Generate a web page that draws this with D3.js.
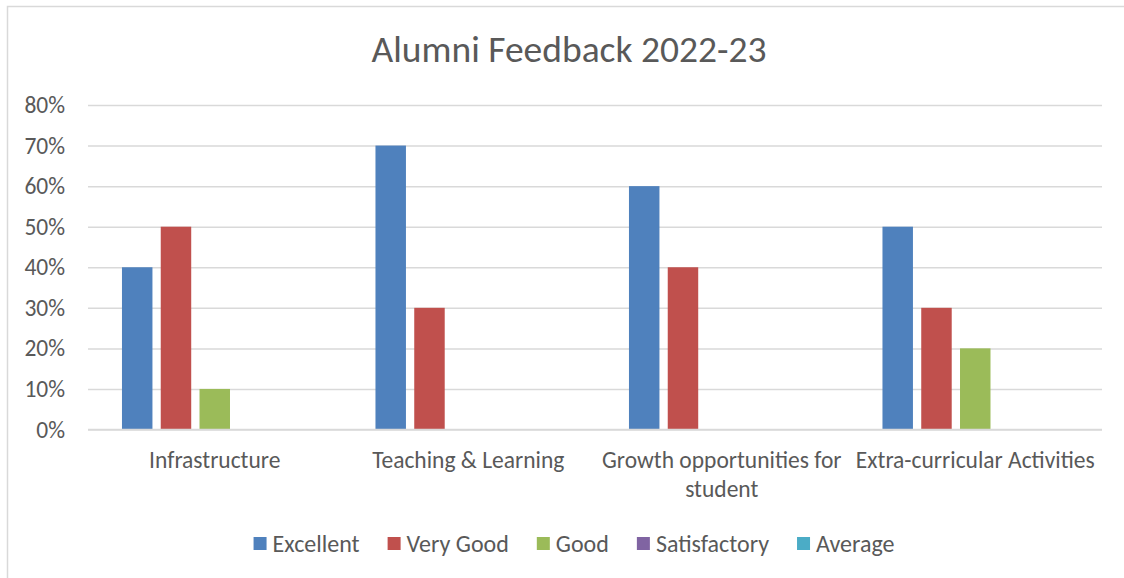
<!DOCTYPE html>
<html>
<head>
<meta charset="utf-8">
<script src="https://cdn.jsdelivr.net/npm/d3@7"></script>
<style>
  html, body { margin: 0; padding: 0; background: #fff; }
  svg { display: block; }
  text { font-family: Carlito, Calibri, Lato, sans-serif; fill: #595959; }
</style>
</head>
<body>
<svg id="chart"></svg>
<script>
// data
const categories = ['Infrastructure', 'Teaching & Learning', 'Growth opportunities for student', 'Extra-curricular Activities']
const seriesNames = ['Excellent', 'Very Good', 'Good', 'Satisfactory', 'Average']
const excellent = [0.40, 0.70, 0.60, 0.50]
const veryGood = [0.50, 0.30, 0.40, 0.30]
const good = [0.10, 0, 0, 0.20]
const satisfactory = [0, 0, 0, 0]
const average = [0, 0, 0, 0]
const yTicks = [0, 0.1, 0.2, 0.3, 0.4, 0.5, 0.6, 0.7, 0.8]
const colors = ['#4F81BD', '#C0504D', '#9BBB59', '#8064A2', '#4BACC6']

const seriesValues = [excellent, veryGood, good, satisfactory, average]

const width = 1124,
  height = 578
const MARGIN = { top: 105, right: 22, bottom: 149, left: 88 }

const $svg = d3.select('#chart')
  .attr('width', width)
  .attr('height', height)

// outer chart border (runs off the right and bottom edge)
$svg.append('rect')
  .attr('x', 7.5)
  .attr('y', 6.5)
  .attr('width', 1130)
  .attr('height', 600)
  .attr('fill', 'none')
  .attr('stroke', '#D9D9D9')
  .attr('stroke-width', 1.5)

$svg.append('text')
  .attr('x', 569)
  .attr('y', 62)
  .attr('text-anchor', 'middle')
  .style('font-size', '37.5px')
  .text('Alumni Feedback 2022-23')

const x0 = d3.scaleBand()
  .domain(categories)
  .range([MARGIN.left, width - MARGIN.right])
  .paddingInner(0.268)
  .paddingOuter(0.134)

const x1 = d3.scaleBand()
  .domain(seriesNames)
  .range([0, x0.bandwidth()])
  .paddingInner(0.214)

const y = d3.scaleLinear()
  .domain([0, 0.8])
  .range([429.5, 105])

// gridlines + y labels
const yAxis = d3.axisLeft(y)
  .tickValues(yTicks)
  .tickFormat(d3.format('.0%'))
  .tickSize(-(width - MARGIN.right - MARGIN.left))
  .tickPadding(23)

const $gy = $svg.append('g')
  .attr('transform', `translate(${MARGIN.left},0)`)
  .call(yAxis)
$gy.select('.domain').remove()
$gy.selectAll('.tick line')
  .attr('stroke', '#D9D9D9')
  .attr('stroke-width', 1.5)
$gy.selectAll('.tick text')
  .attr('fill', '#595959')
  .style('font-family', 'Carlito, Calibri, Lato, sans-serif')
  .style('font-size', '23.5px')

// bars
const rows = []
categories.forEach((c, i) => {
  seriesNames.forEach((s, j) => {
    rows.push({ cat: c, series: s, value: seriesValues[j][i], color: colors[j] })
  })
})

$svg.append('g')
  .selectAll('rect')
  .data(rows.filter(d => d.value > 0))
  .join('rect')
  .attr('x', d => x0(d.cat) + x1(d.series))
  .attr('y', d => y(d.value))
  .attr('width', x1.bandwidth())
  .attr('height', d => y(0) - y(d.value))
  .attr('fill', d => d.color)

// zero line on top of bars
$svg.append('line')
  .attr('x1', MARGIN.left)
  .attr('x2', width - MARGIN.right)
  .attr('y1', y(0))
  .attr('y2', y(0))
  .attr('stroke', '#D9D9D9')
  .attr('stroke-width', 1.5)

// category labels, wrapped to the band width
function wrap(sel, w) {
  sel.each(function () {
    const t = d3.select(this)
    const words = t.text().split(/\s+/)
    const cx = t.attr('x')
    let line = []
    let tspan = t.text(null).append('tspan').attr('x', cx).attr('dy', 0)
    words.forEach(word => {
      line.push(word)
      tspan.text(line.join(' '))
      if (tspan.node().getComputedTextLength() > w && line.length > 1) {
        line.pop()
        tspan.text(line.join(' '))
        line = [word]
        tspan = t.append('tspan').attr('x', cx).attr('dy', '29px').text(word)
      }
    })
  })
}

$svg.append('g')
  .selectAll('text')
  .data(categories)
  .join('text')
  .attr('x', d => x0(d) + x0.bandwidth() / 2)
  .attr('y', 468)
  .attr('text-anchor', 'middle')
  .style('font-size', '23.5px')
  .text(d => d)
  .call(wrap, x0.step())

// legend
const $legend = $svg.append('g')
let lx = 0
seriesNames.forEach((s, i) => {
  const $item = $legend.append('g').attr('transform', `translate(${lx},0)`)
  $item.append('rect')
    .attr('x', 0)
    .attr('y', 537)
    .attr('width', 13)
    .attr('height', 13)
    .attr('fill', colors[i])
  const $t = $item.append('text')
    .attr('x', 19)
    .attr('y', 552)
    .style('font-size', '24px')
    .text(s)
  lx += 19 + $t.node().getComputedTextLength() + 28
})
const legendW = lx - 28
$legend.attr('transform', `translate(${574 - legendW / 2},0)`)
</script>
</body>
</html>
